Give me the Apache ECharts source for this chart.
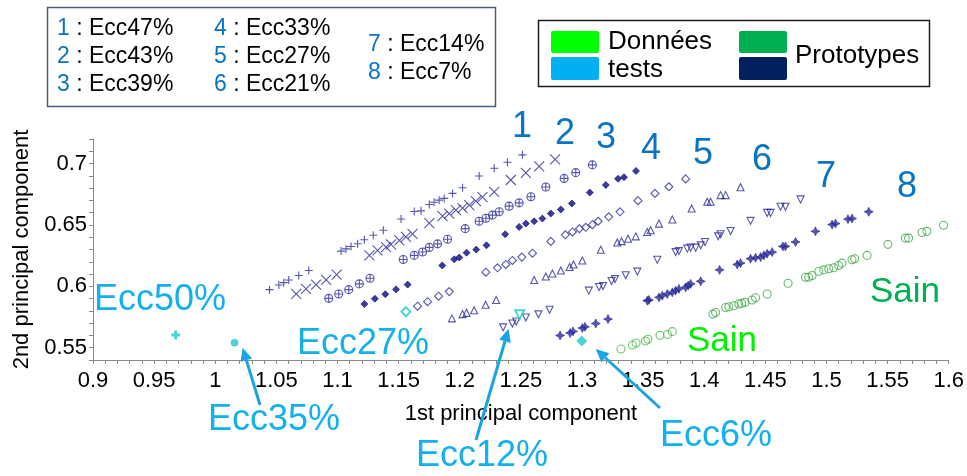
<!DOCTYPE html>
<html>
<head>
<meta charset="utf-8">
<script src="https://cdn.jsdelivr.net/npm/echarts@6/dist/echarts.min.js"></script>
<style>
  html, body { margin: 0; padding: 0; background: #ffffff; }
  #chart { width: 967px; height: 476px; }
</style>
</head>
<body>
<div id="chart"></div>
<script>
const FONT = '"Liberation Sans", Arial, Helvetica, sans-serif';

// Prototype points per eccentricity group: [1st PC, 2nd PC]
const ecc47 = [
  [1.0444, 0.5973], [1.0520, 0.6011], [1.0560, 0.6030], [1.0601, 0.6052], [1.0683, 0.6088], [1.0765, 0.6129],
  [1.1029, 0.6287], [1.1070, 0.6305], [1.1111, 0.6325], [1.1165, 0.6347], [1.1220, 0.6380], [1.1293, 0.6416],
  [1.1375, 0.6457], [1.1520, 0.6549], [1.1628, 0.6610], [1.1683, 0.6615], [1.1751, 0.6667], [1.1790, 0.6685],
  [1.1832, 0.6702], [1.1873, 0.6716], [1.1941, 0.6757], [1.2023, 0.6803], [1.2159, 0.6899], [1.2282, 0.6962],
  [1.2390, 0.7011], [1.2513, 0.7071]
];
const ecc43 = [
  [1.0662, 0.5938], [1.0743, 0.5979], [1.0825, 0.6014], [1.0907, 0.6052], [1.0993, 0.6096],
  [1.1261, 0.6252], [1.1328, 0.6293], [1.1397, 0.6320], [1.1438, 0.6342], [1.1506, 0.6375], [1.1560, 0.6402],
  [1.1614, 0.6428], [1.1751, 0.6514], [1.1859, 0.6571], [1.1914, 0.6592], [1.1969, 0.6620], [1.2023, 0.6637],
  [1.2078, 0.6661], [1.2132, 0.6694], [1.2186, 0.6727], [1.2282, 0.6770], [1.2418, 0.6866], [1.2541, 0.6924],
  [1.2650, 0.6977], [1.2780, 0.7034]
];
const ecc39 = [
  [1.0928, 0.5902], [1.1010, 0.5938], [1.1092, 0.5973], [1.1179, 0.6020], [1.1266, 0.6066],
  [1.1538, 0.6219], [1.1628, 0.6252], [1.1696, 0.6280], [1.1751, 0.6317], [1.1819, 0.6346], [1.1900, 0.6383],
  [1.2045, 0.6470], [1.2159, 0.6530], [1.2214, 0.6555], [1.2268, 0.6580], [1.2323, 0.6607], [1.2404, 0.6653],
  [1.2486, 0.6680], [1.2582, 0.6730], [1.2704, 0.6809], [1.2854, 0.6879], [1.2949, 0.6926], [1.3085, 0.6989]
];
const ecc33 = [
  [1.1220, 0.5856], [1.1306, 0.5899], [1.1391, 0.5936], [1.1479, 0.5975], [1.1574, 0.6014],
  [1.1857, 0.6170], [1.1955, 0.6220], [1.1996, 0.6235], [1.2056, 0.6274], [1.2135, 0.6299], [1.2219, 0.6334],
  [1.2372, 0.6424], [1.2486, 0.6484], [1.2541, 0.6511], [1.2609, 0.6530], [1.2676, 0.6552], [1.2745, 0.6593],
  [1.2827, 0.6626], [1.2917, 0.6675], [1.3064, 0.6764], [1.3195, 0.6825], [1.3295, 0.6876], [1.3344, 0.6889],
  [1.3442, 0.6940]
];
const ecc27 = [
  [1.1655, 0.5838], [1.1737, 0.5875], [1.1827, 0.5920], [1.1914, 0.5957],
  [1.2214, 0.6115], [1.2309, 0.6151], [1.2377, 0.6178], [1.2431, 0.6211], [1.2508, 0.6238], [1.2595, 0.6270],
  [1.2745, 0.6366], [1.2864, 0.6420], [1.2922, 0.6443], [1.2979, 0.6469], [1.3031, 0.6481], [1.3085, 0.6502],
  [1.3132, 0.6530], [1.3219, 0.6566], [1.3311, 0.6607], [1.3458, 0.6698], [1.3597, 0.6757], [1.3711, 0.6811],
  [1.3848, 0.6875]
];
const ecc21 = [
  [1.1936, 0.5739], [1.2023, 0.5774], [1.2056, 0.5784], [1.2118, 0.5805], [1.2212, 0.5850], [1.2298, 0.5889],
  [1.2609, 0.6052], [1.2704, 0.6080], [1.2758, 0.6104], [1.2827, 0.6129], [1.2899, 0.6157], [1.2931, 0.6178],
  [1.3003, 0.6211], [1.3154, 0.6298], [1.3289, 0.6357], [1.3324, 0.6368], [1.3377, 0.6387], [1.3440, 0.6407],
  [1.3534, 0.6443], [1.3562, 0.6457], [1.3630, 0.6511], [1.3739, 0.6544], [1.3897, 0.6634], [1.4025, 0.6689],
  [1.4052, 0.6689], [1.4134, 0.6743], [1.4175, 0.6743], [1.4297, 0.6807]
];
const ecc14 = [
  [1.2355, 0.5666], [1.2431, 0.5697], [1.2462, 0.5713], [1.2541, 0.5746], [1.2644, 0.5772], [1.2735, 0.5809],
  [1.3056, 0.5965], [1.3140, 0.5995], [1.3172, 0.6003], [1.3242, 0.6043], [1.3270, 0.6059], [1.3358, 0.6090],
  [1.3453, 0.6120], [1.3616, 0.6216], [1.3766, 0.6279], [1.3793, 0.6287], [1.3861, 0.6307], [1.3889, 0.6315],
  [1.3930, 0.6315], [1.3971, 0.6334], [1.4006, 0.6361], [1.4114, 0.6407], [1.4134, 0.6424], [1.4216, 0.6451],
  [1.4379, 0.6533], [1.4515, 0.6598], [1.4543, 0.6598], [1.4624, 0.6648], [1.4665, 0.6648], [1.4788, 0.6708]
];
const ecc7 = [
  [1.2821, 0.5600], [1.2903, 0.5620], [1.2927, 0.5633], [1.3003, 0.5661], [1.3025, 0.5670], [1.3113, 0.5697],
  [1.3213, 0.5733], [1.3534, 0.5883], [1.3548, 0.5889], [1.3630, 0.5910], [1.3657, 0.5924], [1.3698, 0.5938],
  [1.3739, 0.5951], [1.3766, 0.5965], [1.3793, 0.5979], [1.3848, 0.5992], [1.3869, 0.6006], [1.3889, 0.6020],
  [1.3971, 0.6041], [1.4126, 0.6134], [1.4270, 0.6178], [1.4297, 0.6189], [1.4379, 0.6225], [1.4420, 0.6233],
  [1.4461, 0.6238], [1.4488, 0.6252], [1.4515, 0.6266], [1.4556, 0.6279], [1.4643, 0.6325], [1.4665, 0.6325],
  [1.4747, 0.6361], [1.4910, 0.6448], [1.5046, 0.6503], [1.5074, 0.6511], [1.5176, 0.6547], [1.5209, 0.6552],
  [1.5346, 0.6607]
];
// Healthy ("Sain") bearings
const sainTest = [
  [1.3319, 0.5489], [1.3413, 0.5522], [1.3442, 0.5539], [1.3519, 0.5555], [1.3540, 0.5569],
  [1.3638, 0.5602], [1.3699, 0.5608], [1.3739, 0.5631]
];
const sainProto = [
  [1.4071, 0.5774], [1.4093, 0.5787], [1.4175, 0.5828], [1.4202, 0.5834], [1.4243, 0.5842], [1.4283, 0.5856],
  [1.4306, 0.5861], [1.4333, 0.5869], [1.4392, 0.5889], [1.4420, 0.5907], [1.4515, 0.5938], [1.4686, 0.6025],
  [1.4829, 0.6074], [1.4855, 0.6074], [1.4882, 0.6088], [1.4937, 0.6123], [1.4978, 0.6134], [1.5019, 0.6143],
  [1.5059, 0.6151], [1.5100, 0.6170], [1.5127, 0.6189], [1.5209, 0.6216], [1.5231, 0.6225], [1.5332, 0.6252],
  [1.5503, 0.6342], [1.5645, 0.6393], [1.5672, 0.6393], [1.5781, 0.6438], [1.5822, 0.6448], [1.5958, 0.6498]
];
// Test samples
const testEcc50 = [[0.9676, 0.5604]];
const testEcc35 = [[1.0158, 0.5541]];
const testEcc27 = [[1.1560, 0.5793]];
const testEcc12 = [[1.2490, 0.5768]];
const testEcc6 = [[1.2998, 0.5555]];

// Axis extents and labels
const xMin = 0.9, xMax = 1.6;
const yMin = 0.54, yMax = 0.72;
const xTitle = '1st principal component';
const yTitle = '2nd principal component';

// Legend contents
const groupIds = ['1', '2', '3', '4', '5', '6', '7', '8'];
const groupEcc = ['Ecc47%', 'Ecc43%', 'Ecc39%', 'Ecc33%', 'Ecc27%', 'Ecc21%', 'Ecc14%', 'Ecc7%'];
const kindLabels = ['Données', 'tests', 'Prototypes'];

const NAVY = '#2c2c9a';
const NAVY_DARK = '#0a0a7e';
const CYAN = '#22c9cc';
const BLUE_TXT = '#0a74c4';
const SKY = '#12b0ee';

const P_PLUS = 'path://M0,5L10,5M5,0L5,10';
const P_CROSS = 'path://M0,0L10,10M10,0L0,10';
const P_OPLUS = 'path://M5,0A5,5,0,1,1,5,10A5,5,0,1,1,5,0ZM0,5L10,5M5,0L5,10';
const P_TRI_DOWN = 'path://M0,0L10,0L5,9Z';
const P_TRI_UP = 'path://M5,0L10,9L0,9Z';
const P_STAR = 'path://M5,0L6.6,3.4L10,5L6.6,6.6L5,10L3.4,6.6L0,5L3.4,3.4Z';

function openSeries(data, symbol, size, color, width) {
  return {
    type: 'scatter', data, symbol, symbolSize: size, silent: true,
    itemStyle: { color: 'rgba(0,0,0,0)', borderColor: color, borderWidth: width || 1.1 }
  };
}
function filledSeries(data, symbol, size, color, width) {
  return {
    type: 'scatter', data, symbol, symbolSize: size, silent: true,
    itemStyle: { color: color, borderColor: color, borderWidth: width || 0.8 }
  };
}

const isMajor = v => Math.abs(v * 20 - Math.round(v * 20)) < 1e-6;
const fmt = v => isMajor(v) ? String(Math.round(v * 100) / 100) : '';

const chart = echarts.init(document.getElementById('chart'), null, { renderer: 'canvas' });

const option = {
  backgroundColor: '#ffffff',
  animation: false,
  textStyle: { fontFamily: FONT },
  grid: { left: 93, right: 17, top: 139, bottom: 116, containLabel: false },
  xAxis: {
    type: 'value', min: xMin, max: xMax, interval: 0.01,
    name: xTitle, nameLocation: 'middle', nameGap: 43,
    nameTextStyle: { color: '#000', fontSize: 22, fontFamily: FONT },
    axisLine: { show: true, onZero: false, lineStyle: { color: '#8a8a8a', width: 1 } },
    axisTick: { show: true, inside: false, length: 4, lineStyle: { color: '#8a8a8a' } },
    axisLabel: { color: '#000', fontSize: 22, fontFamily: FONT, margin: 10, formatter: fmt, showMinLabel: true, showMaxLabel: true, hideOverlap: false },
    splitLine: { show: false }
  },
  yAxis: {
    type: 'value', min: yMin, max: yMax, interval: 0.01,
    name: yTitle, nameLocation: 'middle', nameGap: 58, nameRotate: 90,
    nameTextStyle: { color: '#000', fontSize: 22, fontFamily: FONT },
    axisLine: { show: true, onZero: false, lineStyle: { color: '#8a8a8a', width: 1 } },
    axisTick: { show: true, inside: false, length: 4, lineStyle: { color: '#8a8a8a' } },
    axisLabel: { color: '#000', fontSize: 22, fontFamily: FONT, margin: 6, formatter: fmt, hideOverlap: false },
    splitLine: { show: false }
  },
  series: [
    openSeries(ecc47, P_PLUS, 8, NAVY),
    openSeries(ecc43, P_CROSS, 10, NAVY),
    openSeries(ecc39, P_OPLUS, 8, NAVY),
    filledSeries(ecc33, 'diamond', 7, NAVY_DARK),
    openSeries(ecc27, 'diamond', 8, NAVY),
    openSeries(ecc21, P_TRI_UP, 7, NAVY),
    openSeries(ecc14, P_TRI_DOWN, 7, NAVY),
    filledSeries(ecc7, P_STAR, 9, '#2a2a98'),
    openSeries(sainTest, 'circle', 8, '#48b848'),
    openSeries(sainProto, 'circle', 8, '#3ea846'),
    openSeries(testEcc50, P_PLUS, 9, CYAN, 3),
    filledSeries(testEcc35, 'circle', 7, CYAN),
    openSeries(testEcc27, 'diamond', 9, CYAN, 2),
    openSeries(testEcc12, P_TRI_DOWN, 9, CYAN, 2),
    filledSeries(testEcc6, 'diamond', 10, CYAN)
  ]
};
chart.setOption(option);

// ---- overlay: legends, group numbers, annotations ----
const g = [];
function txt(x, y, text, size, color, align, extra) {
  g.push({
    type: 'text', x, y, silent: true, z: 50,
    style: Object.assign({ text, fill: color, fontSize: size, fontFamily: FONT, align: align || 'left', verticalAlign: 'middle' }, extra || {})
  });
}
function rect(x, y, w, h, style) {
  g.push({ type: 'rect', shape: { x, y, width: w, height: h, r: style.r || 0 }, style, silent: true, z: 40 });
}

// Eccentricity legend
rect(47.5, 7.5, 448, 99, { fill: '#fff', stroke: '#4b5b7c', lineWidth: 1.5 });
const cols = [
  { x: 57, rows: [0, 1, 2], ys: [29, 57, 85] },
  { x: 214, rows: [3, 4, 5], ys: [29, 57, 85] },
  { x: 368, rows: [6, 7], ys: [45, 73] }
];
cols.forEach(c => c.rows.forEach((i, k) => {
  g.push({
    type: 'text', x: c.x, y: c.ys[k], silent: true, z: 50,
    style: {
      text: '{n|' + groupIds[i] + '}{t| : ' + groupEcc[i] + '}',
      verticalAlign: 'middle',
      rich: {
        n: { fill: BLUE_TXT, fontSize: 23, fontFamily: FONT },
        t: { fill: '#000', fontSize: 23, fontFamily: FONT }
      }
    }
  });
}));

// Data-kind legend
rect(538.5, 20.5, 391, 66, { fill: '#fff', stroke: '#1e1e1e', lineWidth: 1.5 });
rect(551, 31, 48, 22, { fill: '#00ff00', r: 2 });
rect(551, 57, 48, 23, { fill: '#00b0f0', r: 2 });
rect(739, 31, 48, 22, { fill: '#00b050', r: 2 });
rect(739, 57, 48, 23, { fill: '#002060', r: 2 });
txt(608, 42, kindLabels[0], 26, '#000');
txt(608, 70, kindLabels[1], 26, '#000');
txt(795, 56, kindLabels[2], 26, '#000');

// Group numbers above each band
const groupNumPos = [[522, 127], [565, 134], [606, 138], [651, 149], [703, 154], [762, 160], [826, 177], [907, 187]];
groupNumPos.forEach((p, i) => txt(p[0], p[1], groupIds[i], 36, BLUE_TXT, 'center'));

// Healthy labels
txt(722, 341, 'Sain', 35, '#00f000', 'center');
txt(905, 292, 'Sain', 35, '#00b050', 'center');

// Test sample labels
txt(160, 300, 'Ecc50%', 36, SKY, 'center');
txt(363, 344, 'Ecc27%', 36, SKY, 'center');
txt(274, 420, 'Ecc35%', 36, SKY, 'center');
txt(482, 456, 'Ecc12%', 36, SKY, 'center');
txt(716, 436, 'Ecc6%', 36, SKY, 'center');

// Arrows from labels to their test samples
function arrow(point, dx, dy, sx, sy) {
  const p = chart.convertToPixel({ gridIndex: 0 }, point);
  const tx = p[0] + dx, ty = p[1] + dy;
  const ang = Math.atan2(ty - sy, tx - sx);
  const L = 13, W = 6;
  const bx = tx - L * Math.cos(ang), by = ty - L * Math.sin(ang);
  g.push({ type: 'line', shape: { x1: sx, y1: sy, x2: bx, y2: by }, style: { stroke: '#1aa4e4', lineWidth: 3 }, silent: true, z: 45 });
  g.push({
    type: 'polygon', silent: true, z: 45,
    shape: { points: [[tx, ty], [bx + W * Math.sin(ang), by - W * Math.cos(ang)], [bx - W * Math.sin(ang), by + W * Math.cos(ang)]] },
    style: { fill: '#1aa4e4' }
  });
}
arrow(testEcc35[0], 8, 5, 260, 405);
arrow(testEcc12[0], -11, 14, 476, 440);
arrow(testEcc6[0], 14, 8, 660, 408);

chart.setOption({ graphic: g });
</script>
</body>
</html>
